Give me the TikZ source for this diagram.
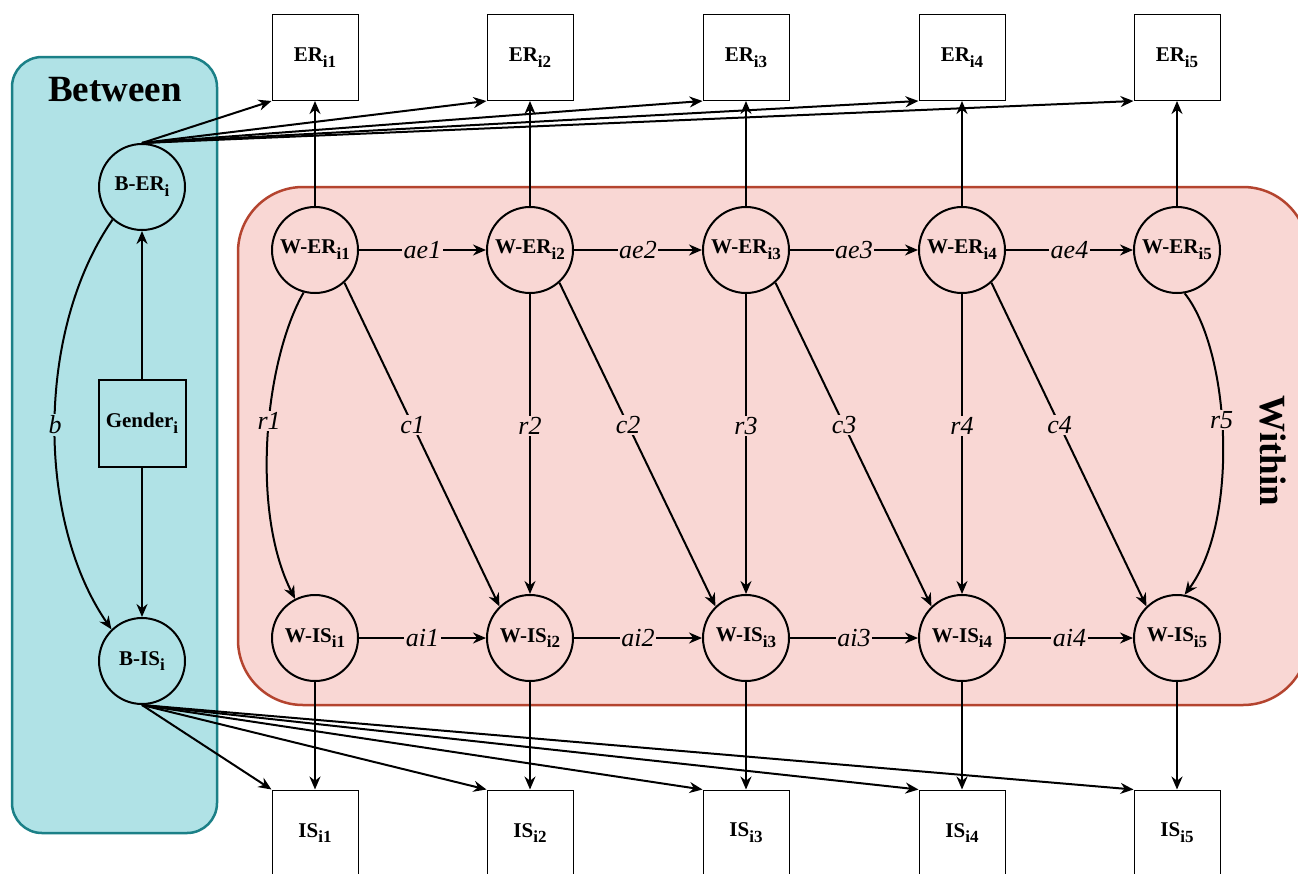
\documentclass[tikz,border=0pt]{standalone}
\usepackage{fontspec}
\setmainfont{Liberation Serif}
\usetikzlibrary{arrows.meta}
\definecolor{bfill}{HTML}{B0E2E6}
\definecolor{bline}{HTML}{1B8087}
\definecolor{wfill}{HTML}{F9D7D4}
\definecolor{wline}{HTML}{B4442F}
\newcommand\sbx[1]{\raisebox{-0.28em}{\fontsize{17}{17}\selectfont #1}}
\begin{document}
\begin{tikzpicture}[x=1pt,y=-1pt,
  arr/.style={line width=2pt,-{Stealth[length=13pt,width=11pt]}},
  obs/.style={draw,line width=1pt,fill=white,minimum width=86pt,minimum height=86pt,inner sep=0pt,font=\bfseries\fontsize{21}{22}\selectfont},
  lat/.style={circle,draw,line width=2pt,minimum size=86pt,inner sep=0pt,font=\bfseries\fontsize{21}{22}\selectfont},
  lbl/.style={font=\itshape\fontsize{26}{26}\selectfont,inner sep=1.5pt}]
\useasboundingbox (0,0) rectangle (1298,873);
\fill[white] (0,0) rectangle (1298,873);
\draw[bline,fill=bfill,line width=2.5pt,rounded corners=30pt] (12,57) rectangle (217,833);
\draw[wline,fill=wfill,line width=2.5pt,rounded corners=65pt] (238,187) rectangle (1308,705);
\node[font=\bfseries\fontsize{37}{37}\selectfont] (tb) at (115,90) {Between};
\node[font=\bfseries\fontsize{37}{37}\selectfont,rotate=-90] (tw) at (1273,451) {Within};
% between nodes
\node[lat] (ber) at (142,187) {B-ER\sbx{i}};
\node[lat] (bis) at (142,661) {B-IS\sbx{i}};
\node[draw,line width=2pt,fill=bfill,minimum width=87pt,minimum height=87pt,inner sep=0pt,font=\bfseries\fontsize{21}{22}\selectfont] (gen) at (142,423) {Gender\sbx{i}};
% within nodes
\foreach \k/\x in {1/315,2/530,3/746,4/962,5/1177}{
  \node[obs] (er\k) at (\x,57.5) {ER\sbx{i\k}};
  \node[obs] (is\k) at (\x,833) {IS\sbx{i\k}};
  \node[lat] (wer\k) at (\x,250) {W-ER\sbx{i\k}};
  \node[lat] (wis\k) at (\x,638) {W-IS\sbx{i\k}};
}
% between connectors
\draw[arr] (gen) -- (ber);
\draw[arr] (gen) -- (bis);
\draw[arr] (ber.228) .. controls (36,330) and (36,520) .. node[pos=0.5,lbl,fill=bfill] {b} (bis.134);
\foreach \k in {1,...,5}{
  \draw[arr] (ber.north) -- (er\k.south west);
  \draw[arr] (bis.south) -- (is\k.north west);
  \draw[arr] (wer\k) -- (er\k);
  \draw[arr] (wis\k) -- (is\k);
}
\foreach \k/\n in {1/2,2/3,3/4,4/5}{
  \draw[arr] (wer\k) -- node[lbl,fill=wfill] {ae\k} (wer\n);
  \draw[arr] (wis\k) -- node[lbl,fill=wfill] {ai\k} (wis\n);
  \draw[arr] (wer\k.-48) -- node[lbl,fill=wfill,pos=0.44] {c\k} (wis\n.134);
}
\foreach \k in {2,3,4}{
  \draw[arr] (wer\k) -- node[lbl,fill=wfill,pos=0.44] {r\k} (wis\k);
}
\draw[arr] (wer1.255) .. controls (265,360) and (250,510) .. node[lbl,fill=wfill,pos=0.45] {r1} (wis1.117);
\draw[arr] (wer5.280) .. controls (1230,350) and (1240,520) .. node[lbl,fill=wfill,pos=0.45] {r5} (wis5.80);
\end{tikzpicture}
\end{document}
